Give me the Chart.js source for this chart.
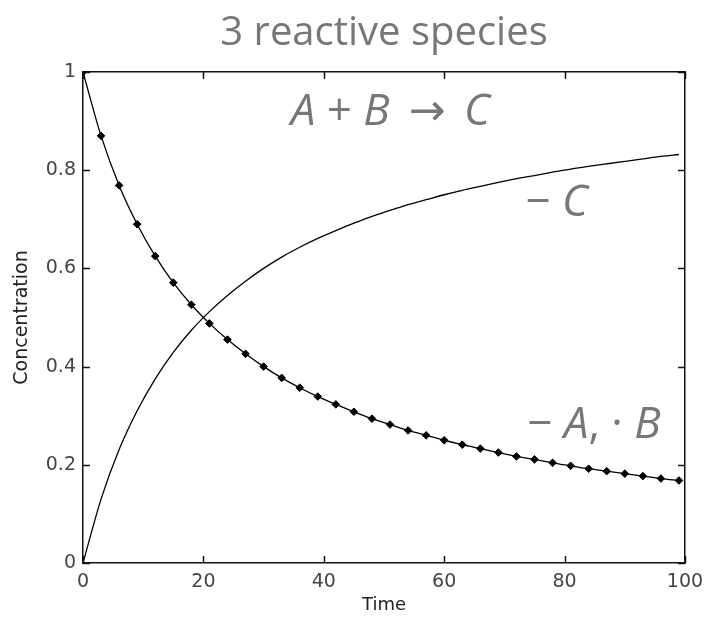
<!DOCTYPE html>
<html>
<head>
<meta charset="utf-8">
<title>3 reactive species</title>
<script src="https://cdn.jsdelivr.net/npm/chart.js@4.4.1/dist/chart.umd.min.js"></script>
<style>
  html, body { margin: 0; padding: 0; background: #fff; }
  canvas { display: block; }
</style>
</head>
<body>
<canvas id="chart1" width="704" height="619"></canvas>
<script>
// sample times
var time = [0, 3, 6, 9, 12, 15, 18, 21, 24, 27, 30, 33, 36, 39, 42, 45, 48,
            51, 54, 57, 60, 63, 66, 69, 72, 75, 78, 81, 84, 87, 90, 93, 96, 99];

// concentration of A
var speciesA = [1.000, 0.870, 0.769, 0.690, 0.625, 0.571, 0.526, 0.488, 0.455,
                0.426, 0.400, 0.377, 0.357, 0.339, 0.323, 0.308, 0.294, 0.282,
                0.270, 0.260, 0.250, 0.241, 0.233, 0.225, 0.217, 0.211, 0.204,
                0.198, 0.192, 0.187, 0.182, 0.177, 0.172, 0.168];

// concentration of B (same start as A, consumed 1:1)
var speciesB = [1.000, 0.870, 0.769, 0.690, 0.625, 0.571, 0.526, 0.488, 0.455,
                0.426, 0.400, 0.377, 0.357, 0.339, 0.323, 0.308, 0.294, 0.282,
                0.270, 0.260, 0.250, 0.241, 0.233, 0.225, 0.217, 0.211, 0.204,
                0.198, 0.192, 0.187, 0.182, 0.177, 0.172, 0.168];

// concentration of product C
var speciesC = [0.000, 0.130, 0.231, 0.310, 0.375, 0.429, 0.474, 0.512, 0.545,
                0.574, 0.600, 0.623, 0.643, 0.661, 0.677, 0.692, 0.706, 0.718,
                0.730, 0.740, 0.750, 0.759, 0.767, 0.775, 0.783, 0.789, 0.796,
                0.802, 0.808, 0.813, 0.818, 0.823, 0.828, 0.832];

function points(ys) {
    return time.map(function (t, i) { return {x: t, y: ys[i]}; });
}

var labelFont = '"Open Sans", "DejaVu Sans", sans-serif';
var axisFont = '"DejaVu Sans", sans-serif';
var notes = [
    // each note: anchor in data units, then pieces of text (italic or upright)
    {x: 34.5, y: 0.892, parts: [['A', true], [' + ', false], ['B', true], ['\u2009 \u2192 \u2009', false], ['C', true]]},
    {x: 73.5, y: 0.706, parts: [['\u2212 ', false], ['C', true]]},
    {x: 73.8, y: 0.255, parts: [['\u2212 ', false], ['A', true], [', \u00b7 ', false], ['B', true]]}
];

// MATLAB style ticks pointing into the box, plus the text notes
var boxTicks = {
    id: 'boxTicks',
    afterDraw: function (chart) {
        var ctx = chart.ctx;
        var area = chart.chartArea;
        var xs = chart.scales.x, ys = chart.scales.y;
        var len = 7;
        ctx.save();
        ctx.strokeStyle = '#111';
        ctx.lineWidth = 1.5;
        ctx.beginPath();
        xs.ticks.forEach(function (tk) {
            var px = Math.round(xs.getPixelForValue(tk.value)) + 0.5;
            ctx.moveTo(px, area.bottom); ctx.lineTo(px, area.bottom - len);
            ctx.moveTo(px, area.top); ctx.lineTo(px, area.top + len);
        });
        ys.ticks.forEach(function (tk) {
            var py = Math.round(ys.getPixelForValue(tk.value)) + 0.5;
            ctx.moveTo(area.left, py); ctx.lineTo(area.left + len, py);
            ctx.moveTo(area.right, py); ctx.lineTo(area.right - len, py);
        });
        ctx.stroke();

        ctx.fillStyle = '#777';
        ctx.textBaseline = 'alphabetic';
        ctx.textAlign = 'left';
        notes.forEach(function (n) {
            var px = xs.getPixelForValue(n.x);
            var py = ys.getPixelForValue(n.y);
            n.parts.forEach(function (p) {
                ctx.font = (p[1] ? 'italic ' : '') + '44px ' + labelFont;
                ctx.fillText(p[0], px, py);
                px += ctx.measureText(p[0]).width;
            });
        });
        ctx.restore();
    }
};

var ctx = document.getElementById("chart1").getContext('2d');
var chart1 = new Chart(ctx, {
    type: 'line',
    data: {
        datasets: [{
            label: 'A',
            data: points(speciesA),
            borderColor: '#000',
            borderWidth: 1.3,
            pointRadius: 0,
            cubicInterpolationMode: 'monotone',
            fill: false
        }, {
            label: 'B',
            data: points(speciesB),
            showLine: false,
            pointStyle: 'rectRot',
            pointRadius: 3.8,
            pointBackgroundColor: '#000',
            pointBorderColor: '#000',
            pointBorderWidth: 1
        }, {
            label: 'C',
            data: points(speciesC),
            borderColor: '#000',
            borderWidth: 1.3,
            pointRadius: 0,
            cubicInterpolationMode: 'monotone',
            fill: false
        }]
    },
    options: {
        responsive: false,
        animation: false,
        devicePixelRatio: 1,
        layout: { padding: { left: 0, right: 19, top: 0, bottom: 0 } },
        plugins: {
            legend: { display: false },
            tooltip: { enabled: false },
            title: {
                display: true,
                text: '3 reactive species',
                fullSize: false,
                color: '#777',
                font: { family: labelFont, size: 40, weight: 'normal' },
                padding: { top: 10, bottom: 14 }
            }
        },
        scales: {
            x: {
                type: 'linear',
                position: 'bottom',
                min: 0,
                max: 100,
                grid: { display: false, drawTicks: false },
                border: { display: true, color: '#111', width: 1.5 },
                ticks: {
                    stepSize: 20,
                    padding: 8,
                    color: '#444',
                    font: { family: axisFont, size: 19 }
                },
                title: {
                    display: true,
                    text: 'Time',
                    color: '#222',
                    font: { family: axisFont, size: 18 },
                    padding: { top: 0, bottom: 3 }
                },
                afterFit: function (scale) {
                    scale.height = 56;
                    // let the "100" label hang past the box edge
                    scale.paddingRight = 0;
                }
            },
            y: {
                type: 'linear',
                position: 'left',
                min: 0,
                max: 1,
                grid: { display: false, drawTicks: false },
                border: { display: true, color: '#111', width: 1.5 },
                ticks: {
                    stepSize: 0.2,
                    padding: 7,
                    color: '#444',
                    font: { family: axisFont, size: 19 },
                    callback: function (v) { return String(Math.round(v * 10) / 10); }
                },
                title: {
                    display: true,
                    text: 'Concentration',
                    color: '#222',
                    font: { family: axisFont, size: 19 },
                    padding: { top: 11, bottom: 0 }
                },
                afterFit: function (scale) { scale.width = 83; }
            },
            x2: {
                type: 'linear',
                position: 'top',
                min: 0,
                max: 100,
                grid: { display: false, drawTicks: false },
                border: { display: true, color: '#111', width: 1.5 },
                ticks: { display: false },
                afterFit: function (scale) { scale.height = 0; }
            },
            y2: {
                type: 'linear',
                position: 'right',
                min: 0,
                max: 1,
                grid: { display: false, drawTicks: false },
                border: { display: true, color: '#111', width: 1.5 },
                ticks: { display: false },
                afterFit: function (scale) { scale.width = 0; }
            }
        }
    },
    plugins: [boxTicks]
});
</script>
</body>
</html>
